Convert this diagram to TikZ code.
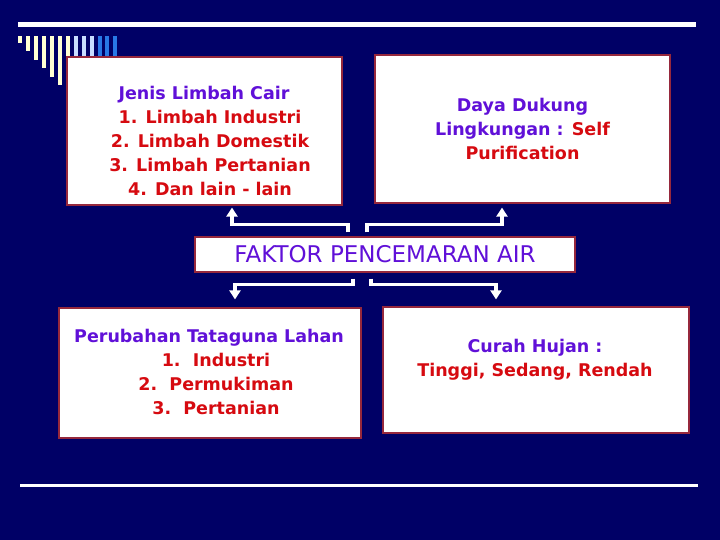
\documentclass[tikz,border=0pt]{standalone}
\usepackage{fontspec}
\setmainfont{DejaVu Sans}
\usepackage{tikz}
\usetikzlibrary{arrows.meta, calc, positioning}
\definecolor{navy}{RGB}{0,0,102}
\definecolor{titleviolet}{RGB}{96,16,216}
\definecolor{itemred}{RGB}{214,10,16}
\definecolor{boxedge}{RGB}{150,40,60}
\definecolor{cream}{RGB}{255,255,210}
\definecolor{paleblue}{RGB}{200,220,255}
\definecolor{midblue}{RGB}{40,120,230}
\tikzstyle{box} = [rectangle, draw=boxedge, line width=1.2pt, fill=white]
\tikzstyle{txt} = [align=center, text=itemred, font=\bfseries\fontsize{17.5}{24}\selectfont]
\tikzstyle{arrow} = [draw=white, line width=3.5pt, -{Triangle[width=11pt,length=9pt]}]

\begin{document}
\begin{tikzpicture}[x=1pt, y=-1pt]
    \useasboundingbox[fill=navy] (0,0) rectangle (720,540);
    % slide decoration
    \draw[white, line width=5pt] (18,24.5) -- (696,24.5);
    \foreach \i/\c in {0/cream,1/cream,2/cream,3/cream,4/cream,5/cream,6/cream,7/paleblue,8/paleblue,9/paleblue,10/midblue,11/midblue,12/midblue}
        \fill[\c] (18+7.95*\i,36) rectangle ++(4,7+8.4*\i);
    \draw[white, line width=3pt] (20,485.5) -- (698,485.5);

    \node (Jenis) [box, minimum width=275pt, minimum height=148pt] at (204.5,131) {};
    \node (JenisText) [txt] at (210,141) {\textcolor{titleviolet}{Jenis Limbah Cair}\hspace*{12pt}\\ 1. Limbah Industri\\ 2. Limbah Domestik\\ 3. Limbah Pertanian\\ 4. Dan lain - lain};
    \node (Daya) [box, txt, minimum width=295pt, minimum height=148pt] at (522.5,129) {\textcolor{titleviolet}{Daya Dukung}\\ \textcolor{titleviolet}{Lingkungan :} Self\\ Purification};
    \node (Faktor) [box, minimum width=380pt, minimum height=35pt, text=titleviolet, font=\fontsize{23}{28}\selectfont] at (385,254.5) {FAKTOR PENCEMARAN AIR};
    \node (Lahan) [box, minimum width=302pt, minimum height=130pt] at (210,373) {};
    \node (LahanText) [txt] at (216,371.5) {\textcolor{titleviolet}{Perubahan Tataguna Lahan}\hspace*{14pt}\\ 1.\ \ Industri\\ 2.\ \ Permukiman\\ 3.\ \ Pertanian};
    \node (Hujan) [box, minimum width=306pt, minimum height=126pt] at (536,370) {};
    \node (HujanText) [txt] at (535,360) {\textcolor{titleviolet}{Curah Hujan :}\\ Tinggi, Sedang, Rendah};

    \draw [arrow, shorten >=2pt] ([xshift=-37pt, yshift=4pt]Faktor.north) -- ++(0,-8) -| ([xshift=27.5pt]Jenis.south);
    \draw [arrow, shorten >=4pt] ([xshift=-18pt, yshift=4pt]Faktor.north) -- ++(0,-8) -| ([xshift=-20.5pt]Daya.south);
    \draw [arrow, shorten >=8pt] ([xshift=-32pt, yshift=-6pt]Faktor.south) -- ++(0,6) -| ([xshift=25pt]Lahan.north);
    \draw [arrow, shorten >=7pt] ([xshift=-14pt, yshift=-6pt]Faktor.south) -- ++(0,6) -| ([xshift=-40pt]Hujan.north);
\end{tikzpicture}
\end{document}
